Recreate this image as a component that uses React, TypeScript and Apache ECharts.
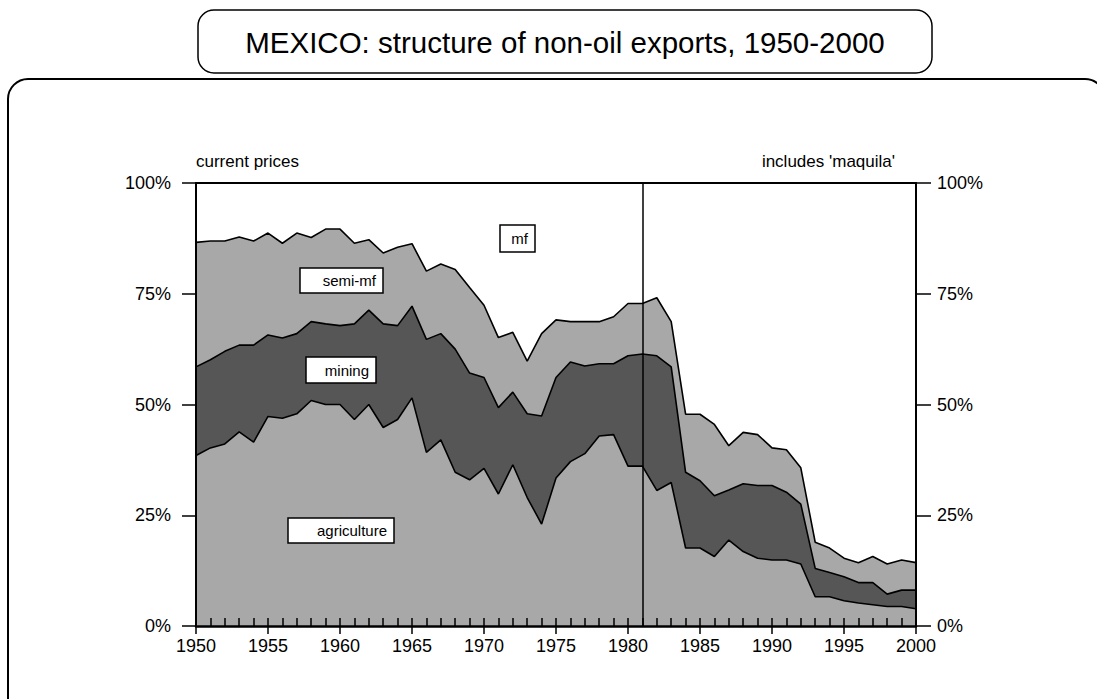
import React, { useEffect, useRef } from "react";
import * as echarts from "echarts";

const YEARS = [
  1950, 1951, 1952, 1953, 1954, 1955, 1956, 1957, 1958, 1959,
  1960, 1961, 1962, 1963, 1964, 1965, 1966, 1967, 1968, 1969,
  1970, 1971, 1972, 1973, 1974, 1975, 1976, 1977, 1978, 1979,
  1980, 1981, 1982, 1983, 1984, 1985, 1986, 1987, 1988, 1989,
  1990, 1991, 1992, 1993, 1994, 1995, 1996, 1997, 1998, 1999,
  2000,
];

// shares of non-oil exports, % (current prices)
const AGRICULTURE = [
  38.5, 40.2, 41.1, 43.8, 41.5, 47.3, 46.9, 47.9, 50.9, 50.0,
  50.0, 46.6, 50.0, 44.8, 46.6, 51.5, 39.2, 42.0, 34.7, 33.0,
  35.6, 29.8, 36.4, 29.0, 23.0, 33.4, 37.1, 38.9, 42.9, 43.2,
  36.1, 36.1, 30.6, 32.4, 17.6, 17.6, 15.7, 19.4, 16.8, 15.3,
  14.9, 14.9, 14.0, 6.6, 6.6, 5.7, 5.2, 4.8, 4.4, 4.4,
  3.9,
];
const MINING = [
  20.0, 19.9, 20.9, 19.6, 21.9, 18.4, 18.1, 18.1, 17.8, 18.2,
  17.8, 21.6, 21.3, 23.4, 21.2, 20.7, 25.5, 24.0, 27.8, 24.1,
  20.5, 19.5, 16.4, 18.9, 24.4, 22.7, 22.5, 19.8, 16.3, 16.0,
  24.9, 25.3, 30.4, 26.1, 17.1, 15.2, 13.7, 11.3, 15.3, 16.4,
  16.8, 15.3, 13.5, 6.4, 5.5, 5.4, 4.6, 5.0, 2.8, 3.7,
  4.2,
];
const SEMI_MF = [
  28.1, 26.8, 24.9, 24.4, 23.5, 23.0, 21.4, 22.7, 19.0, 21.4,
  21.8, 18.2, 15.9, 16.0, 17.7, 14.1, 15.4, 15.7, 18.0, 19.3,
  16.3, 15.8, 13.5, 11.9, 18.6, 13.0, 9.1, 10.0, 9.5, 10.6,
  11.8, 11.4, 13.1, 10.2, 13.1, 15.0, 16.1, 10.0, 11.6, 11.5,
  8.5, 9.6, 8.2, 5.9, 5.5, 4.2, 4.5, 5.9, 6.8, 6.8,
  6.2,
];

const X_MIN = 1950;
const X_MAX = 2000;
const X_STEP = 5;
const Y_MIN = 0;
const Y_MAX = 100;
const Y_STEP = 25;
const SPLIT_YEAR = 1981;

const TITLE = "MEXICO: structure of non-oil exports, 1950-2000";
const NOTE_LEFT = "current prices";
const NOTE_RIGHT = "includes 'maquila'";
const SERIES_NAMES = ["agriculture", "mining", "semi-mf", "mf"];

const LIGHT = "#a8a8a8";
const DARK = "#565656";
const FONT = "'Liberation Sans', Arial, Helvetica, sans-serif";

function labelBox(text: string, x: number, y: number, w: number, h: number) {
  return {
    type: "group",
    z: 100,
    children: [
      {
        type: "rect",
        z: 100,
        shape: { x, y, width: w, height: h },
        style: { fill: "#ffffff", stroke: "#000000", lineWidth: 1.5 },
      },
      {
        type: "text",
        z: 101,
        style: {
          text,
          x: x + w - 7,
          y: y + h / 2,
          align: "right",
          textAlign: "right",
          verticalAlign: "middle",
          textVerticalAlign: "middle",
          fontSize: 15,
          fontFamily: FONT,
          fill: "#000000",
        },
      },
    ],
  };
}

export default function App() {
  const ref = useRef<HTMLDivElement>(null);

  useEffect(() => {
    if (!ref.current) return;
    const chart = echarts.init(ref.current, undefined, { renderer: "svg" });

    // cumulative layer tops (stack agriculture -> mining -> semi-mf)
    const layers = [AGRICULTURE, MINING, SEMI_MF];
    const tops: number[][] = [];
    layers.forEach((vals, k) => {
      tops.push(vals.map((v, i) => +(v + (k > 0 ? tops[k - 1][i] : 0)).toFixed(2)));
    });

    const mk = (name: string, vals: number[], color: string, z: number, extra: any = {}) => ({
      type: "line",
      name,
      data: YEARS.map((yr, i) => [yr, vals[i]]),
      symbol: "none",
      showSymbol: false,
      lineStyle: { color: "#000000", width: 1.6 },
      areaStyle: { color, opacity: 1, origin: "start" },
      z,
      ...extra,
    });

    const option: any = {
      animation: false,
      backgroundColor: "#ffffff",
      grid: { left: 196, right: 181, top: 183, bottom: 73, containLabel: false },
      xAxis: [
        {
          type: "value",
          position: "bottom",
          min: X_MIN,
          max: X_MAX,
          interval: X_STEP,
          z: 10,
          axisLine: { show: true, onZero: false, lineStyle: { color: "#000", width: 2.5 } },
          axisTick: { show: true, inside: false, length: 8, lineStyle: { color: "#000", width: 1.5 } },
          minorTick: { show: false },
          axisLabel: {
            show: true,
            margin: 11,
            color: "#000",
            fontSize: 18,
            fontFamily: FONT,
            formatter: (v: number) => String(v),
          },
          splitLine: { show: false },
        },
        {
          type: "value",
          position: "bottom",
          min: X_MIN,
          max: X_MAX,
          interval: X_STEP,
          z: 10,
          axisLine: { show: false, onZero: false },
          axisTick: { show: true, inside: true, length: 8, lineStyle: { color: "#000", width: 1.5 } },
          minorTick: { show: true, splitNumber: 5, length: 8, lineStyle: { color: "#000", width: 1.5 } },
          axisLabel: { show: false },
          splitLine: { show: false },
          minorSplitLine: { show: false },
        },
        {
          type: "value",
          position: "top",
          min: X_MIN,
          max: X_MAX,
          interval: X_STEP,
          z: 10,
          axisLine: { show: true, onZero: false, lineStyle: { color: "#000", width: 2 } },
          axisTick: { show: false },
          axisLabel: { show: false },
          splitLine: { show: false },
        },
      ],
      yAxis: [
        {
          type: "value",
          position: "left",
          min: Y_MIN,
          max: Y_MAX,
          interval: Y_STEP,
          z: 10,
          axisLine: { show: true, onZero: false, lineStyle: { color: "#000", width: 2 } },
          axisTick: { show: true, inside: false, length: 14, lineStyle: { color: "#000", width: 1.5 } },
          axisLabel: {
            margin: 25,
            color: "#000",
            fontSize: 18,
            fontFamily: FONT,
            formatter: "{value}%",
          },
          splitLine: { show: false },
        },
        {
          type: "value",
          position: "right",
          min: Y_MIN,
          max: Y_MAX,
          interval: Y_STEP,
          z: 10,
          axisLine: { show: true, onZero: false, lineStyle: { color: "#000", width: 2 } },
          axisTick: { show: true, inside: false, length: 15, lineStyle: { color: "#000", width: 1.5 } },
          axisLabel: {
            margin: 21,
            color: "#000",
            fontSize: 18,
            fontFamily: FONT,
            formatter: "{value}%",
          },
          splitLine: { show: false },
        },
      ],
      series: [
        mk(SERIES_NAMES[2], tops[2], LIGHT, 2),
        mk(SERIES_NAMES[1], tops[1], DARK, 3),
        mk(SERIES_NAMES[0], tops[0], LIGHT, 4, {
          markLine: {
            silent: true,
            symbol: ["none", "none"],
            label: { show: false },
            lineStyle: { color: "#000", width: 1.5, type: "solid" },
            data: [{ xAxis: SPLIT_YEAR }],
          },
        }),
      ],
      graphic: [
        {
          type: "rect",
          z: 1,
          shape: { x: 8, y: 79, width: 1097, height: 640, r: 20 },
          style: { fill: "none", stroke: "#000", lineWidth: 2 },
        },
        {
          type: "rect",
          z: 2,
          shape: { x: 198, y: 10, width: 734, height: 63, r: 16 },
          style: { fill: "#ffffff", stroke: "#000", lineWidth: 1.5 },
        },
        {
          type: "text",
          z: 3,
          style: {
            text: TITLE,
            x: 565,
            y: 42,
            align: "center",
            textAlign: "center",
            verticalAlign: "middle",
            textVerticalAlign: "middle",
            fontSize: 29.5,
            fontFamily: FONT,
            fill: "#000",
          },
        },
        {
          type: "text",
          z: 3,
          style: {
            text: NOTE_LEFT,
            x: 196,
            y: 161,
            align: "left",
            textAlign: "left",
            verticalAlign: "middle",
            textVerticalAlign: "middle",
            fontSize: 17,
            fontFamily: FONT,
            fill: "#000",
          },
        },
        {
          type: "text",
          z: 3,
          style: {
            text: NOTE_RIGHT,
            x: 895,
            y: 161,
            align: "right",
            textAlign: "right",
            verticalAlign: "middle",
            textVerticalAlign: "middle",
            fontSize: 17,
            fontFamily: FONT,
            fill: "#000",
          },
        },
        labelBox(SERIES_NAMES[2], 300, 268, 83, 25),
        labelBox(SERIES_NAMES[1], 306, 357, 70, 26),
        labelBox(SERIES_NAMES[0], 288, 518, 106, 25),
        labelBox(SERIES_NAMES[3], 500, 225, 35, 27),
      ],
    };

    chart.setOption(option);
    return () => {
      chart.dispose();
    };
  }, []);

  return (
    <div
      ref={ref}
      style={{ position: "fixed", left: 0, top: 0, width: 1097, height: 699, background: "#fff" }}
    />
  );
}
